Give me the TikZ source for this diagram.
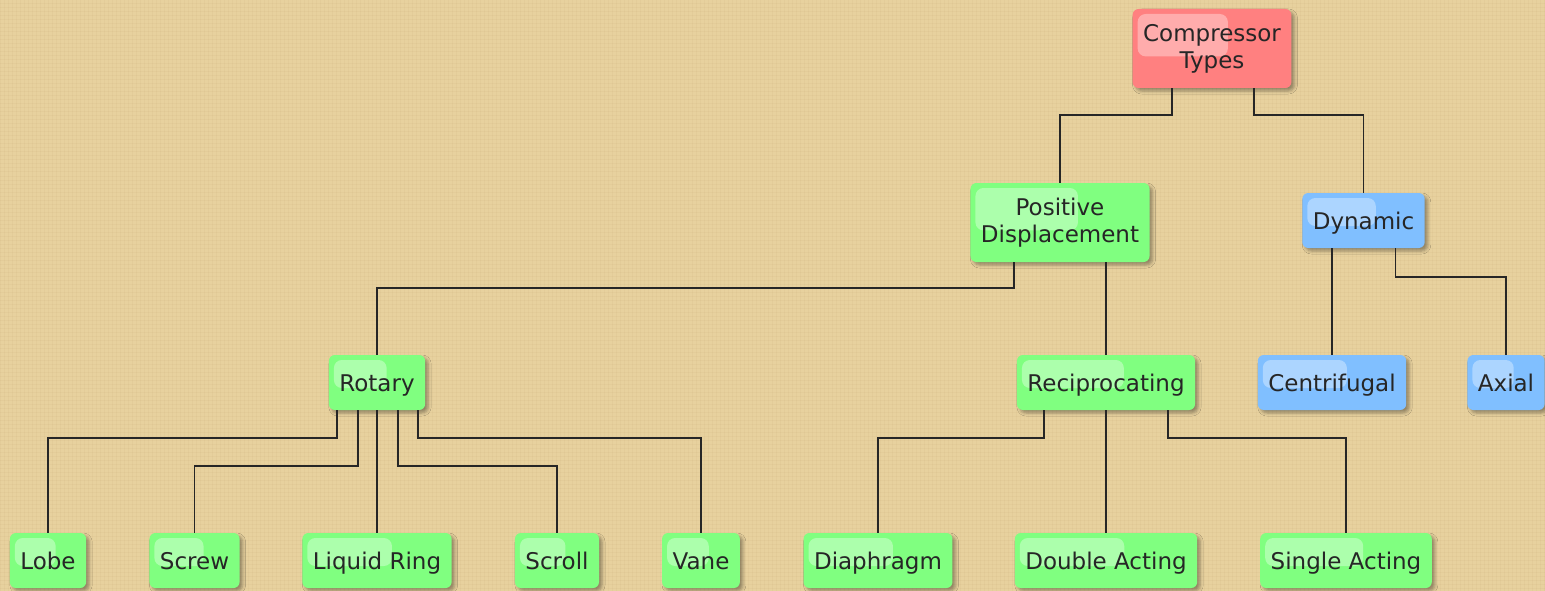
\documentclass[tikz,border=0pt]{standalone}
\usepackage{fontspec}
\setmainfont{DejaVu Sans}
\usetikzlibrary{calc,shadows.blur}

\definecolor{parchment}{RGB}{231,209,158}
\definecolor{rootred}{RGB}{255,128,128}
\definecolor{pdgreen}{RGB}{128,255,128}
\definecolor{dynblue}{RGB}{128,191,255}

\tikzset{
  box/.style={rounded corners=6pt, inner xsep=10.5pt, inner ysep=2pt,
    minimum height=55pt, align=center, text=black!85,
    font=\fontsize{23}{27}\selectfont,
    blur shadow={shadow xshift=3pt, shadow yshift=-3pt,
                 shadow blur radius=3pt, shadow opacity=35},
    path picture={
      \fill[white, fill opacity=0.35, rounded corners=8pt]
        ([shift={(5pt,-5pt)}]path picture bounding box.north west) rectangle
        ($(path picture bounding box.north west)!0.6!(path picture bounding box.south east)$);
    }},
  oneline/.style={text height=21pt, text depth=4pt},
  rootbox/.style={box, fill=rootred, minimum height=79pt},
  pdbox/.style={box, fill=pdgreen, minimum height=79pt},
  greenbox/.style={box, oneline, fill=pdgreen},
  bluebox/.style={box, oneline, fill=dynblue},
  link/.style={draw=black!85, line width=1.8pt}
}

\begin{document}
\begin{tikzpicture}[x=1pt, y=-1pt]

  % ========== background ==========
  \clip (0,0) rectangle (1545,591);
  \fill[parchment] (0,0) rectangle (1545,591);
  \foreach \x in {0,4,...,1545}
    \draw[brown!70!black, opacity=0.04, line width=1pt] (\x,0) -- (\x,591);
  \foreach \y in {0,4,...,591}
    \draw[brown!70!black, opacity=0.04, line width=1pt] (0,\y) -- (1545,\y);

  % ========== top levels ==========
  \node[rootbox] (comp) at (1212,48.5) {Compressor\\Types};
  \node[pdbox] (pd) at (1060,222.5) {Positive\\Displacement};
  \node[bluebox] (dyn) at (1363.5,220.5) {Dynamic};

  \node[greenbox] (rot) at (377,382.5) {Rotary};
  \node[greenbox] (rec) at (1106,382.5) {Reciprocating};
  \node[bluebox] (cen) at (1332,382.5) {Centrifugal};
  \node[bluebox] (ax) at (1506,382.5) {Axial};

  % ========== leaves ==========
  \foreach \name/\x/\txt in {lobe/48/Lobe, screw/194.5/Screw,
      liq/377/Liquid Ring, scroll/557/Scroll, vane/701/Vane,
      dia/878/Diaphragm, dbl/1106/Double Acting, sgl/1346/Single Acting}
    \node[greenbox] (\name) at (\x,560.5) {\txt};

  % ========== connectors ==========
  \draw[link] ([xshift=-40pt]comp.south) -- ++(0,27) -| (pd.north);
  \draw[link] ([xshift=42pt]comp.south) -- ++(0,27) -| (dyn.north);

  \draw[link] ([xshift=-46pt]pd.south) -- ++(0,26) -| (rot.north);
  \draw[link] (pd.south -| rec.north) -- (rec.north);
  \draw[link] (dyn.south -| cen.north) -- (cen.north);
  \draw[link] ([xshift=32pt]dyn.south) -- ++(0,29) -| (ax.north);

  % rotary branch
  \draw[link] ([xshift=-40pt]rot.south) -- ++(0,28) -| (lobe.north);
  \draw[link] ([xshift=-19pt]rot.south) -- ++(0,56) -| (screw.north);
  \draw[link] (rot.south) -- (liq.north);
  \draw[link] ([xshift=21pt]rot.south) -- ++(0,56) -| (scroll.north);
  \draw[link] ([xshift=41pt]rot.south) -- ++(0,28) -| (vane.north);

  % reciprocating branch
  \draw[link] ([xshift=-62pt]rec.south) -- ++(0,28) -| (dia.north);
  \draw[link] (rec.south) -- (dbl.north);
  \draw[link] ([xshift=62pt]rec.south) -- ++(0,28) -| (sgl.north);

\end{tikzpicture}
\end{document}
